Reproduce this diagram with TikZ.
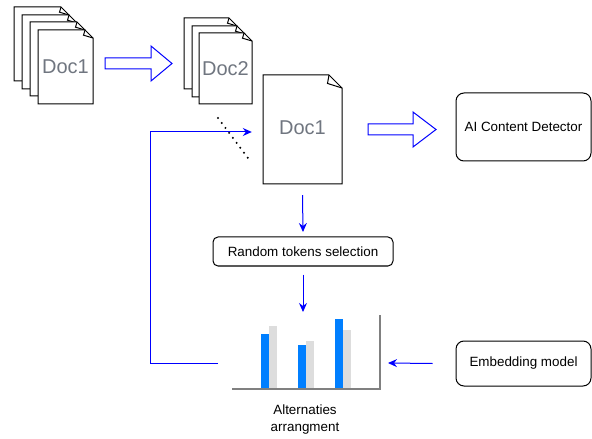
\documentclass[tikz,border=0pt]{standalone}
\usepackage{fontspec}
\setmainfont{Liberation Sans}
\usetikzlibrary{arrows.meta,positioning}

\definecolor{doctext}{RGB}{112,118,128}
\definecolor{barblue}{RGB}{0,127,255}
\definecolor{bargray}{RGB}{221,221,221}
\definecolor{axisgray}{RGB}{128,128,128}

% page with curled corner: left, top, width, height, fold
\newcommand{\docpage}[5]{%
  \filldraw[fill=white, line width=1bp] (#1,#2) -- (#1+#3-#5,#2) -- (#1+#3,#2+#5) -- (#1+#3,#2+#4) -- (#1,#2+#4) -- cycle;
  \draw[line width=1bp] (#1+#3-#5,#2) .. controls (#1+#3-#5-0.5,#2+0.35*#5) .. (#1+#3-#5-1.5,#2+0.65*#5) -- (#1+#3,#2+#5);
}
% hollow block arrow: tail x, tip x, mid y, shaft half, head half, head length
\newcommand{\hollowarrow}[6]{%
  \draw[blue, line width=1bp] (#1,#3-#4) -- (#2-#6,#3-#4) -- (#2-#6,#3-#5) -- (#2,#3) -- (#2-#6,#3+#5) -- (#2-#6,#3+#4) -- (#1,#3+#4) -- cycle;
}

\begin{document}
\begin{tikzpicture}[x=1bp,y=-1bp]
  \tikzstyle{doclabel}=[text=doctext, font=\fontsize{20bp}{24bp}\selectfont, inner sep=0pt];
  \tikzstyle{roundbox}=[draw, line width=1bp, rounded corners=8bp, font=\fontsize{13.4bp}{16bp}\selectfont, align=center];
  \tikzstyle{flow}=[blue, line width=1bp, -{Stealth[length=9bp,width=8bp,inset=3bp]}];

  \useasboundingbox (0,0) rectangle (592,439);

  % first stack
  \foreach \i/\l/\t in {0/14/7, 1/22/15, 2/30/22, 3/38/30}
    \docpage{\l}{\t}{55}{74}{8};
  \node[doclabel] (doc1) at (65.5,67) {Doc1};

  \hollowarrow{105}{172}{63.5}{5.5}{17.5}{21}

  % second stack
  \foreach \i/\l/\t in {0/184/18, 1/192/26, 2/199/33}
    \docpage{\l}{\t}{53}{71}{8};
  \node[doclabel] (doc2) at (225.5,69) {Doc2};

  % picked document
  \docpage{263}{75}{79}{109}{13}
  \node[doclabel, minimum width=79bp, minimum height=109bp] (bigdoc) at (302.5,129.5) {};
  \node[doclabel] (bigdoclabel) at (302.5,128) {Doc1};
  \draw[line width=2.2bp, line cap=round, dash pattern=on 0bp off 6.2bp] (218,118) -- (251,162);

  \hollowarrow{368}{436}{129.5}{5.5}{17.5}{23}
  \node[roundbox, minimum width=135bp, minimum height=68bp] (detector) at (523.5,127) {AI Content Detector};

  \node[roundbox, rounded corners=5bp, minimum width=180bp, minimum height=29bp] (tokens) at (303,251.5) {Random tokens selection};
  \node[roundbox, minimum width=135bp, minimum height=45bp] (embed) at (523.5,363.5) {Embedding model};

  % chart
  \coordinate (charttop) at (303,312);
  \coordinate (chartright) at (388,363);
  \coordinate (chartleft) at (218,363);
  \foreach \x/\hb/\hg in {261/334/326, 298/345/341, 335/319/330} {
    \fill[barblue] (\x,389) rectangle (\x+8,\hb);
    \fill[bargray] (\x+8,389) rectangle (\x+15.5,\hg);
  }
  \draw[axisgray, line width=2bp] (232,389) -- (380,389) -- (380,315);
  \node[font=\fontsize{13.4bp}{17bp}\selectfont, align=center] (chartlabel) at (305,419.5) {Alternaties\\arrangment};

  % connectors
  \draw[flow] ([yshift=-11bp]bigdoc.south) -- (303,232);
  \draw[flow] ([yshift=-8bp]tokens.south) -- (charttop);
  \draw[flow] ([xshift=-23bp]embed.west) -- (chartright);
  \draw[flow] (chartleft) -- (150,363) |- ([xshift=-11bp]bigdoc.west |- 0,132);
\end{tikzpicture}
\end{document}
